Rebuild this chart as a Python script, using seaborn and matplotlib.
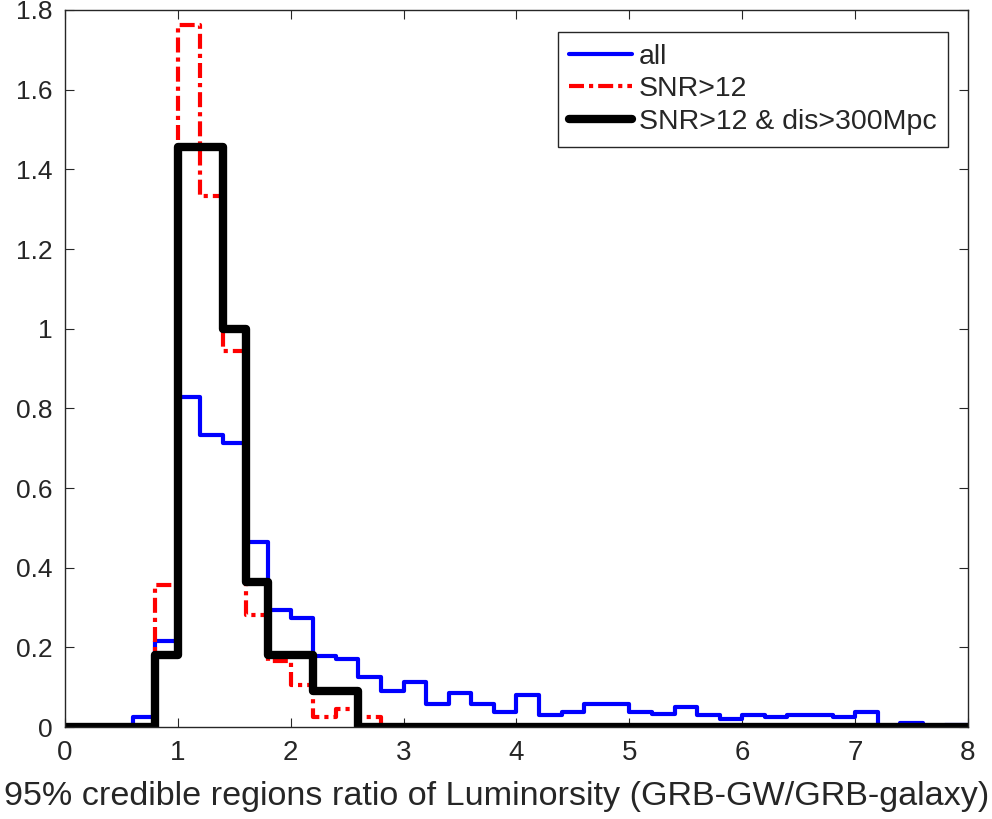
import numpy as np
import pandas as pd
import matplotlib
matplotlib.use('Agg')
import matplotlib.pyplot as plt
import seaborn as sns

# bin edges: 0 to 8 in steps of 0.2
bin_edges = np.round(np.arange(0, 8.0001, 0.2), 2)
bin_centers = (bin_edges[:-1] + bin_edges[1:]) / 2

# densities, one per bin (40 bins)
all_density = [0, 0, 0, 0.024, 0.215, 0.829, 0.733, 0.712, 0.464, 0.295,
               0.274, 0.179, 0.171, 0.125, 0.091, 0.112, 0.057, 0.086, 0.057, 0.037,
               0.080, 0.030, 0.037, 0.057, 0.057, 0.037, 0.032, 0.051, 0.030, 0.021,
               0.030, 0.025, 0.030, 0.030, 0.025, 0.038, 0, 0.010, 0, 0.005]
snr_density = [0, 0, 0, 0, 0.356, 1.762, 1.333, 0.945, 0.281, 0.166,
               0.105, 0.026, 0.045, 0.024, 0, 0, 0, 0, 0, 0,
               0, 0, 0, 0, 0, 0, 0, 0, 0, 0,
               0, 0, 0, 0, 0, 0, 0, 0, 0, 0]
snr_dis_density = [0, 0, 0, 0, 0.182, 1.455, 1.455, 1.0, 0.364, 0.182,
                   0.182, 0.091, 0.091, 0, 0, 0, 0, 0, 0, 0,
                   0, 0, 0, 0, 0, 0, 0, 0, 0, 0,
                   0, 0, 0, 0, 0, 0, 0, 0, 0, 0]

series_labels = ['all', 'SNR>12', 'SNR>12 & dis>300Mpc']
x_ticks = [0, 1, 2, 3, 4, 5, 6, 7, 8]
y_ticks = [0, 0.2, 0.4, 0.6, 0.8, 1.0, 1.2, 1.4, 1.6, 1.8]
y_tick_labels = ['0', '0.2', '0.4', '0.6', '0.8', '1', '1.2', '1.4', '1.6', '1.8']

df = pd.DataFrame({'ratio': bin_centers, 'all': all_density,
                   'snr': snr_density, 'snr_dis': snr_dis_density})

sns.set_style('white')
plt.rcParams['font.family'] = ['Liberation Sans', 'DejaVu Sans']

fig = plt.figure(figsize=(9.92, 8.19), dpi=100)
ax = fig.add_axes([0.0655, 0.1123, 0.9103, 0.8755])

hist_kws = dict(data=df, x='ratio', binwidth=0.2, binrange=(0, 8), element='step',
                fill=False, ax=ax)
# the three step histograms (black on top)
sns.histplot(weights='all', color='#0000ff', linewidth=3.0, label=series_labels[0], **hist_kws)
sns.histplot(weights='snr', color='#ff0000', linewidth=3.0, linestyle=(0, (3.6, 1.2, 1, 1.2)),
             label=series_labels[1], **hist_kws)
sns.histplot(weights='snr_dis', color='black', linewidth=6.0, label=series_labels[2], **hist_kws)

# matlab-like axes box
ax.set_xlim(0, 8)
ax.set_ylim(0, 1.8)
ax.set_xticks(x_ticks)
ax.set_yticks(y_ticks)
ax.set_yticklabels(y_tick_labels)
for side in ['top', 'right', 'bottom', 'left']:
    ax.spines[side].set_visible(True)
    ax.spines[side].set_color('#262626')
    ax.spines[side].set_linewidth(1.0)
ax.tick_params(direction='in', length=6.5, width=0.8, color='#262626',
               top=True, right=True, left=True, bottom=True)
ax.tick_params(axis='x', labelsize=20, pad=9, labelcolor='#262626')
ax.tick_params(axis='y', labelsize=19, pad=9, labelcolor='#262626')

ax.set_xlabel('95% credible regions ratio of Luminorsity (GRB-GW/GRB-galaxy)',
              fontsize=24.6, color='#262626')
# label sits a bit left of the axes centre, as in the original
ax.xaxis.set_label_coords(0.478, -0.075, transform=ax.transAxes)
ax.xaxis.label.set_verticalalignment('top')
ax.set_ylabel('')

leg = ax.legend(loc='upper right', bbox_to_anchor=(0.978, 0.969), fontsize=20.5,
                frameon=True, fancybox=False, framealpha=1, edgecolor='#262626',
                handlelength=2.2, handletextpad=0.25, labelspacing=0.24,
                borderpad=0.4, borderaxespad=0)
leg.get_frame().set_linewidth(1.0)

fig.savefig('out.png', dpi=100)
